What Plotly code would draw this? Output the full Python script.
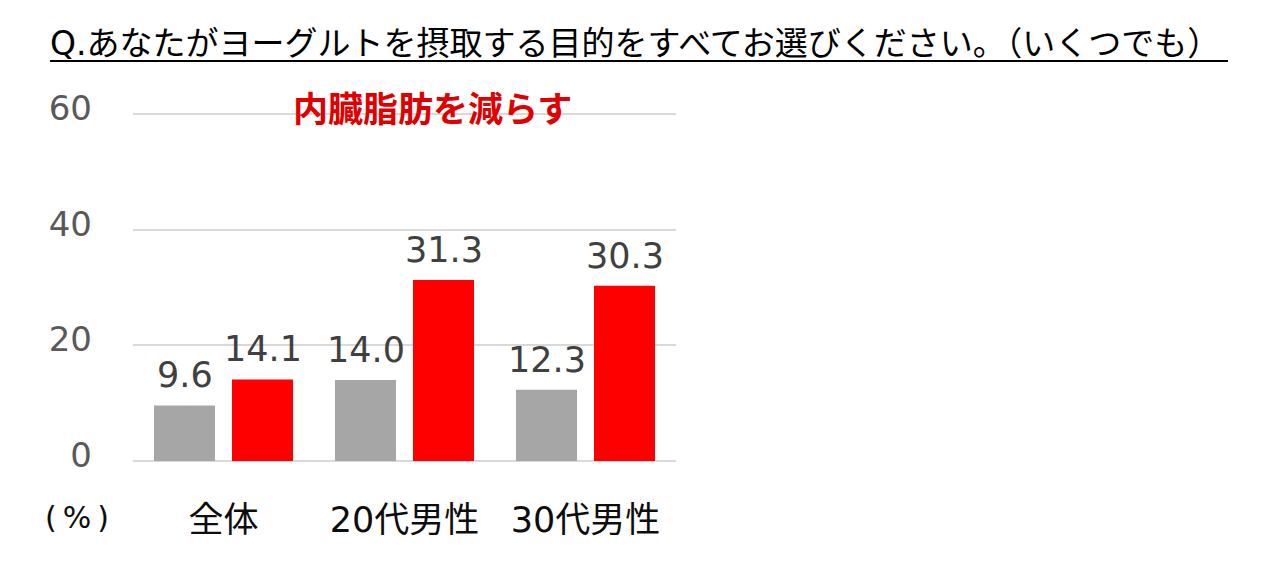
import plotly.graph_objects as go

categories = ["全体", "20代男性", "30代男性"]
gray_values = [9.6, 14.0, 12.3]
red_values = [14.1, 31.3, 30.3]
y_ticks = [0, 20, 40, 60]

title_text = "Q.あなたがヨーグルトを摂取する目的をすべてお選びください。（いくつでも）"
series_label = "内臓脂肪を減らす"
unit_label = "(\u2009%\u2009)"

FONT_MIX = "DejaVu Sans, Noto Sans CJK JP, sans-serif"
FONT_JP = "Noto Sans CJK JP, sans-serif"

# page body has an 8px margin; geometry below is expressed in screen px minus 8
L, W_PLOT, T, H_PLOT = 125, 543, 103, 350
BAR_SHIFT = 39  # half of a group slot in px (bar centre offset within group)

fig = go.Figure()
fig.add_trace(go.Bar(
    x=categories, y=gray_values, name="gray",
    marker=dict(color="#A6A6A6", line=dict(width=0)),
    hoverinfo="skip",
))
fig.add_trace(go.Bar(
    x=categories, y=red_values, name=series_label,
    marker=dict(color="#FF0000", line=dict(width=0)),
    hoverinfo="skip",
))

annotations = []
for vals, sh in ((gray_values, -BAR_SHIFT), (red_values, BAR_SHIFT)):
    for c, v in zip(categories, vals):
        annotations.append(dict(
            x=c, y=v, xref="x", yref="y", text=f"{v:.1f}",
            xanchor="center", yanchor="bottom", xshift=sh, yshift=8,
            showarrow=False,
            font=dict(family=FONT_MIX, size=35, color="#404040"),
        ))

annotations += [
    dict(text=f"<b>{series_label}</b>", xref="paper", yref="paper",
         x=(432 - 133) / W_PLOT, y=(461 - 106) / H_PLOT,
         xanchor="center", yanchor="middle", showarrow=False,
         font=dict(family=FONT_JP, size=35, color="#E00000")),
    dict(text=unit_label, xref="paper", yref="paper",
         x=(77 - 133) / W_PLOT, y=(461 - 517) / H_PLOT,
         xanchor="center", yanchor="middle", showarrow=False,
         font=dict(family=FONT_MIX, size=30, color="#0D0D0D")),
]

fig.update_layout(
    width=1280, height=575,
    margin=dict(l=L, r=1280 - L - W_PLOT, t=T, b=575 - T - H_PLOT),
    paper_bgcolor="white", plot_bgcolor="white",
    barmode="group", bargap=0.138, bargroupgap=0.218,
    showlegend=False,
    title=dict(text=title_text, x=42 / 1280, xanchor="left",
               y=1 - 35 / 575, yanchor="middle",
               font=dict(family=FONT_MIX, size=33, color="#000000")),
    xaxis=dict(
        showgrid=False, showline=False, zeroline=False, ticks="",
        tickfont=dict(family=FONT_MIX, size=35, color="#0D0D0D"),
        ticklabelstandoff=35,
    ),
    yaxis=dict(
        range=[0, 60.5], tickvals=y_ticks, showgrid=True,
        gridcolor="#D9D9D9", gridwidth=2, zeroline=True,
        zerolinecolor="#D9D9D9", zerolinewidth=2, showline=False, ticks="",
        tickfont=dict(family=FONT_MIX, size=34, color="#595959"),
        ticklabelstandoff=40, ticklabelshift=-6,
    ),
    shapes=[dict(type="line", xref="paper", yref="paper",
                 x0=(50 - 133) / W_PLOT, x1=(1228 - 133) / W_PLOT,
                 y0=(461 - 61) / H_PLOT, y1=(461 - 61) / H_PLOT,
                 line=dict(color="#000000", width=2))],
    annotations=annotations,
)

fig.write_html("out.html")
